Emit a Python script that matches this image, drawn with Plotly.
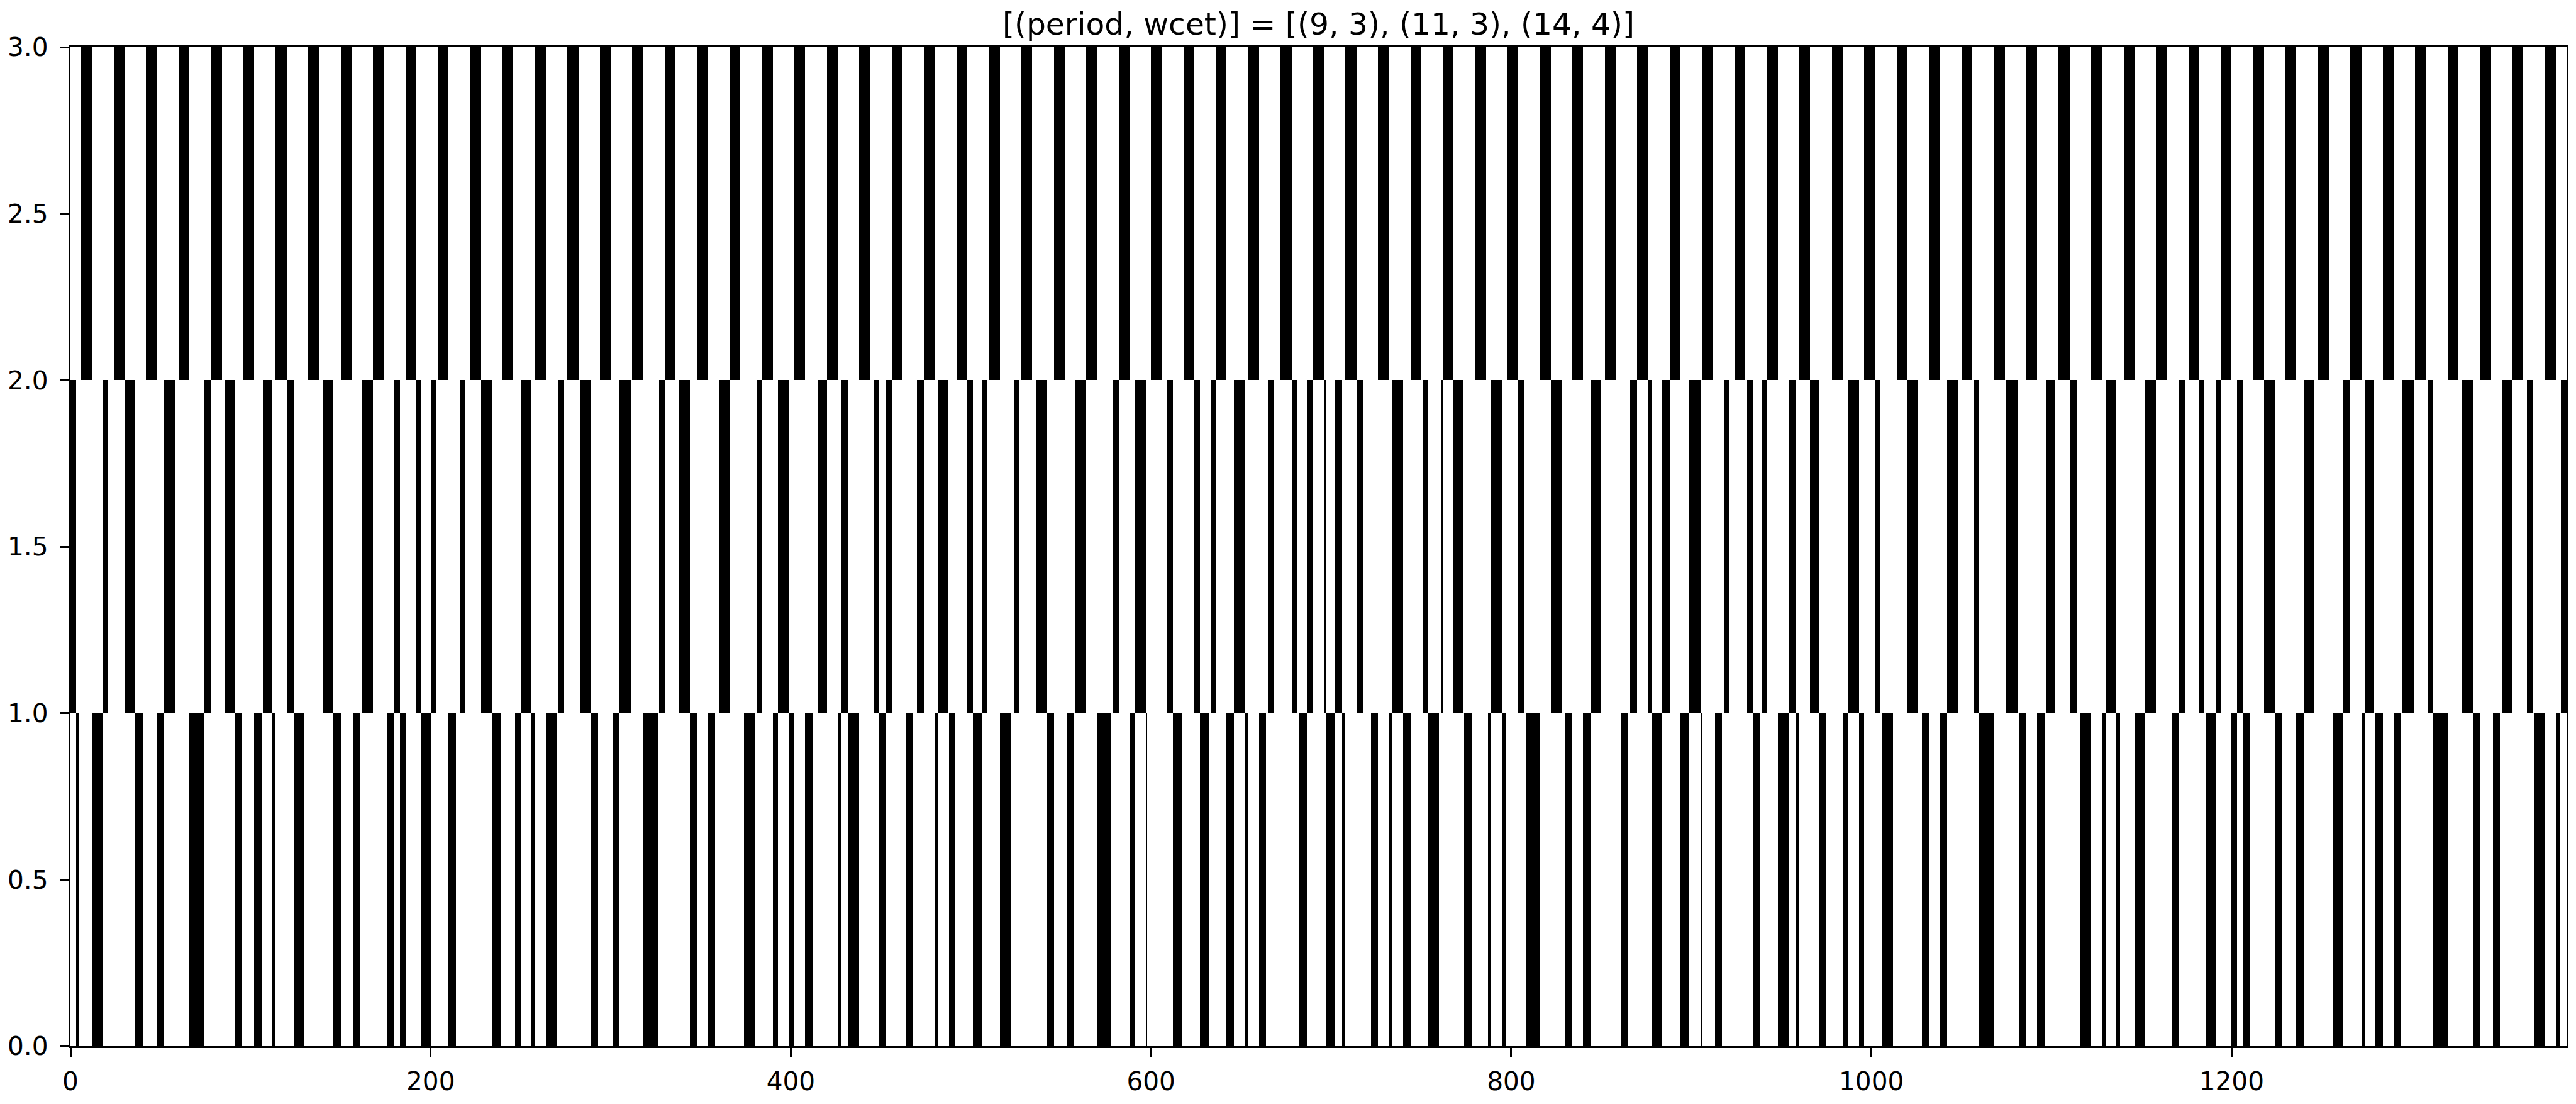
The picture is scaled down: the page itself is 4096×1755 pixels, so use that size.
import plotly.graph_objects as go

TITLE = "[(period, wcet)] = [(9, 3), (11, 3), (14, 4)]"

# row centres (one row per task)
ROWS = [2.5, 1.5, 0.5]

# task (9, 3): execution intervals [start, end]
task1 = [[6, 12], [24, 30], [42, 48], [60, 66], [78, 84], [96, 102], [114, 120], [132, 138],
         [150, 156], [168, 174], [186, 192], [204, 210], [222, 228], [240, 246], [258, 264],
         [276, 282], [294, 300], [312, 318], [330, 336], [348, 354], [366, 372], [384, 390],
         [402, 408], [420, 426], [438, 444], [456, 462], [474, 480], [492, 498], [510, 516],
         [528, 534], [546, 552], [564, 570], [582, 588], [600, 606], [618, 624], [636, 642],
         [654, 660], [672, 678], [690, 696], [708, 714], [726, 732], [744, 750], [762, 768],
         [780, 786], [798, 804], [816, 822], [834, 840], [852, 858], [870, 876], [888, 894],
         [906, 912], [924, 930], [942, 948], [960, 966], [978, 984], [996, 1002], [1014, 1020],
         [1032, 1038], [1050, 1056], [1068, 1074], [1086, 1092], [1104, 1110], [1122, 1128],
         [1140, 1146], [1158, 1164], [1176, 1182], [1194, 1200], [1212, 1218], [1230, 1236],
         [1248, 1254], [1266, 1272], [1284, 1290], [1302, 1308], [1320, 1326], [1338, 1344],
         [1356, 1362], [1374, 1380]]

# task (11, 3)
task2 = [[0, 3], [18, 21], [30, 36], [52, 58], [74, 78], [86, 91], [107, 112], [120, 124],
         [140, 146], [162, 168], [180, 183], [192, 195], [200, 203], [216, 219], [228, 234],
         [250, 256], [271, 274], [283, 289], [305, 311], [327, 330], [338, 344], [360, 366],
         [381, 384], [393, 399], [415, 420], [428, 432], [446, 449], [453, 456], [470, 474],
         [482, 487], [498, 501], [506, 509], [524, 527], [536, 542], [558, 564], [579, 582],
         [591, 597], [609, 612], [624, 627], [633, 636], [646, 652], [665, 668], [678, 681],
         [687, 690], [696, 697], [702, 706], [714, 718], [734, 740], [751, 754], [761, 762],
         [768, 773], [789, 795], [804, 807], [822, 828], [844, 850], [866, 870], [876, 878],
         [884, 888], [899, 905], [918, 921], [931, 934], [939, 942], [954, 958], [966, 971],
         [987, 993], [1002, 1005], [1020, 1026], [1042, 1048], [1057, 1060], [1075, 1081],
         [1097, 1102], [1110, 1114], [1130, 1136], [1152, 1158], [1171, 1174], [1182, 1185],
         [1191, 1194], [1203, 1206], [1218, 1224], [1240, 1246], [1262, 1266], [1274, 1279],
         [1295, 1301], [1309, 1312], [1328, 1334], [1350, 1356], [1364, 1367], [1383, 1386]]

# task (14, 4)
task3 = [[3, 5], [12, 18], [36, 40], [48, 52], [66, 74], [91, 95], [102, 106], [112, 114],
         [124, 130], [146, 150], [157, 161], [176, 180], [183, 186], [195, 200], [210, 214],
         [234, 239], [247, 250], [256, 258], [264, 270], [289, 293], [301, 305], [318, 326],
         [344, 348], [354, 358], [374, 380], [390, 393], [399, 402], [408, 412], [426, 428],
         [432, 438], [449, 453], [464, 468], [480, 482], [488, 491], [501, 506], [516, 522],
         [542, 546], [553, 557], [570, 578], [588, 591], [597, 598], [612, 617], [627, 632],
         [642, 646], [652, 654], [660, 664], [682, 687], [697, 702], [706, 708], [722, 726],
         [732, 734], [740, 744], [754, 760], [774, 778], [787, 789], [795, 797], [808, 816],
         [830, 834], [840, 844], [861, 865], [878, 884], [894, 899], [905, 906], [913, 917],
         [934, 938], [948, 954], [958, 960], [971, 975], [984, 987], [993, 996], [1006, 1012],
         [1028, 1032], [1038, 1042], [1060, 1068], [1082, 1086], [1092, 1096], [1116, 1122],
         [1128, 1130], [1136, 1138], [1146, 1152], [1167, 1171], [1186, 1191], [1200, 1203],
         [1206, 1210], [1224, 1228], [1236, 1240], [1256, 1262], [1272, 1274], [1280, 1284],
         [1290, 1294], [1312, 1320], [1334, 1338], [1345, 1349], [1368, 1374], [1380, 1382]]

X_MAX = 1386
X_TICKS = [0, 200, 400, 600, 800, 1000, 1200]
Y_TICKS = [0.0, 0.5, 1.0, 1.5, 2.0, 2.5, 3.0]
Y_TICK_TEXT = ["0.0", "0.5", "1.0", "1.5", "2.0", "2.5", "3.0"]

S = 0.975
FONT = "DejaVu Sans"

fig = go.Figure()
for row, ivs in zip(ROWS, [task1, task2, task3]):
    fig.add_trace(go.Bar(
        orientation="h",
        y=[row] * len(ivs),
        base=[s for s, e in ivs],
        x=[e - s for s, e in ivs],
        width=1.0,
        marker=dict(color="black", line=dict(width=0)),
        showlegend=False,
        hoverinfo="skip",
    ))

axis_common = dict(
    showgrid=False, zeroline=False,
    showline=True, mirror=True, linecolor="black", linewidth=0.8 * 300 / 72 * S,
    ticks="outside", ticklen=3.5 * 300 / 72 * S, tickwidth=0.8 * 300 / 72 * S, tickcolor="black",
    tickfont=dict(family=FONT, size=10 * 300 / 72 * S, color="black"),
)

fig.update_layout(
    width=4096, height=1755,
    margin=dict(l=108.5 * S, r=(4200 - 4187) * S, t=77 * S, b=(1800 - 1716) * S, pad=0),
    paper_bgcolor="white", plot_bgcolor="white",
    barmode="overlay", bargap=0,
    title=dict(text=TITLE, x=0.5, xref="paper", xanchor="center",
               y=1 - 38 / 1755, yref="container", yanchor="middle",
               font=dict(family=FONT, size=12 * 300 / 72 * S, color="black")),
    xaxis=dict(range=[0, X_MAX], tickvals=X_TICKS, ticklabelstandoff=4, **axis_common),
    yaxis=dict(range=[0, 3], tickvals=Y_TICKS, ticktext=Y_TICK_TEXT, ticklabelstandoff=10, **axis_common),
)

fig.write_html("out.html")
